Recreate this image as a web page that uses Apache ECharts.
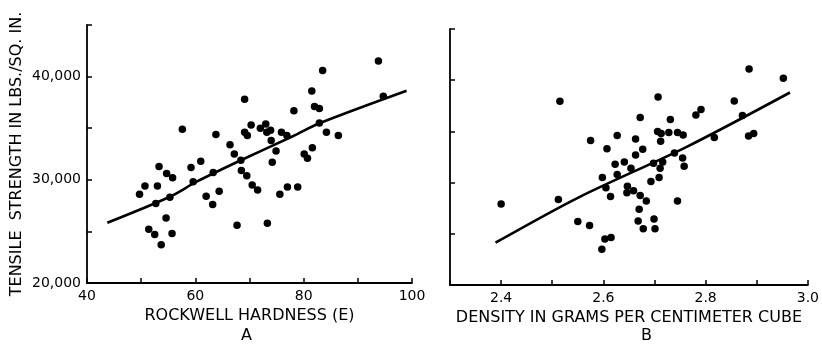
<!DOCTYPE html>
<html><head><meta charset="utf-8">
<script src="https://cdn.jsdelivr.net/npm/echarts@6/dist/echarts.min.js"></script>
<style>html,body{margin:0;padding:0;background:#fff}#c{width:822px;height:347px}</style>
</head><body><div id="c"></div>
<script>
// Panel A: Rockwell hardness vs tensile strength
const hardness = [49.7,50.7,53.3,53.0,52.7,51.4,52.5,53.7,54.6,54.7,55.8,55.3,55.7,57.6,59.2,59.6,61.0,62.0,63.2,63.3,63.8,64.4,66.4,67.2,67.7,68.4,68.5,69.1,69.1,69.6,69.5,70.3,70.5,71.5,72.0,73.0,73.2,73.9,73.3,74.0,74.2,74.9,75.6,75.9,76.9,77.0,78.2,78.9,80.1,80.7,81.5,81.6,82.0,82.9,82.9,83.5,84.2,86.4,93.8,94.7];
const strengthA = [28600,29400,31300,29400,27700,25200,24700,23700,26300,30600,30200,28300,24800,34900,31200,29800,31800,28400,27600,30700,34400,28900,33400,32500,25600,31900,30900,37800,34600,34300,30400,35300,29500,29000,35000,35400,34600,34800,25800,33800,31700,32800,28600,34600,34300,29300,36700,29300,32500,32100,38600,33100,37100,36900,35500,40600,34600,34300,41500,38100];
const trendAx = [43.75,55.3,60.25,68.4,78.1,82.9,99.0];
const trendAy = [25840,28360,29816,31890,34245,35475,38630];

// Panel B: density vs tensile strength
const density = [2.40,2.515,2.512,2.550,2.573,2.575,2.597,2.603,2.615,2.607,2.598,2.605,2.614,2.623,2.627,2.627,2.641,2.647,2.646,2.654,2.659,2.663,2.663,2.672,2.677,2.672,2.684,2.670,2.668,2.678,2.693,2.698,2.699,2.701,2.707,2.706,2.713,2.712,2.711,2.709,2.716,2.728,2.731,2.739,2.745,2.756,2.755,2.758,2.745,2.781,2.791,2.817,2.856,2.872,2.885,2.884,2.894,2.952];
const strengthB = [27900,37950,28360,26200,25800,34100,23500,24500,24650,33300,30500,29500,28650,31800,30800,34600,32000,29650,29000,31400,29200,34270,32700,36350,33250,28750,28200,27400,26250,25500,30100,31900,26450,25500,38370,35000,34800,34050,31400,30500,32000,34900,36150,32900,34900,34650,32400,31600,28200,36600,37150,34400,37980,36550,41100,34550,34800,40200];
const trendBx = [2.389,2.551,2.763,2.965];
const trendBy = [24127,28537,33493,38800];

const yTitle = 'TENSILE  STRENGTH IN LBS./SQ. IN.';
const xTitleA = 'ROCKWELL HARDNESS (E)';
const xTitleB = 'DENSITY IN GRAMS PER CENTIMETER CUBE';
const panelA = 'A', panelB = 'B';

const FONT = 'DejaVu Sans';
const INK = '#000';
const zip = (a, b) => a.map((v, i) => [v, b[i]]);

function axisBase() {
  return {
    axisLine: {show: true, onZero: false, lineStyle: {color: INK, width: 1.8}},
    axisTick: {show: true, inside: true, length: 5, lineStyle: {color: INK, width: 1.5}},
    splitLine: {show: false},
    nameTextStyle: {color: INK, fontFamily: FONT, fontSize: 16}
  };
}
const lbl = (extra) => Object.assign({color: INK, fontFamily: FONT, fontSize: 14, margin: 6}, extra);

const option = {
  animation: false,
  backgroundColor: '#fff',
  grid: [
    {left: 87, right: 410, top: 25, bottom: 64},
    {left: 450, right: 9, top: 29, bottom: 62}
  ],
  xAxis: [
    Object.assign(axisBase(), {
      gridIndex: 0, type: 'value', min: 40, max: 100, interval: 10,
      name: xTitleA, nameLocation: 'middle', nameGap: 20,
      axisLabel: lbl({formatter: v => (v % 20 === 0 ? String(v) : '')})
    }),
    Object.assign(axisBase(), {
      gridIndex: 1, type: 'value', min: 2.3, max: 3.0, interval: 0.1,
      name: xTitleB, nameLocation: 'middle', nameGap: 20,
      axisLabel: lbl({formatter: v => (Math.round(v * 10) % 2 === 0 ? v.toFixed(1) : '')})
    })
  ],
  yAxis: [
    Object.assign(axisBase(), {
      gridIndex: 0, type: 'value', min: 20000, max: 45000, interval: 5000,
      name: yTitle, nameLocation: 'middle', nameGap: 62,
      axisLabel: lbl({formatter: v => (v % 10000 === 0 ? (v / 1000) + ',000' : '')})
    }),
    Object.assign(axisBase(), {
      gridIndex: 1, type: 'value', min: 20000, max: 45000, interval: 5000,
      axisLabel: {show: false}
    })
  ],
  series: [
    {type: 'scatter', xAxisIndex: 0, yAxisIndex: 0, data: zip(hardness, strengthA),
     symbol: 'circle', symbolSize: 7.5, itemStyle: {color: '#000', opacity: 1}},
    {type: 'line', xAxisIndex: 0, yAxisIndex: 0, data: zip(trendAx, trendAy),
     showSymbol: false, smooth: 0.3, lineStyle: {color: '#000', width: 2.6}},
    {type: 'scatter', xAxisIndex: 1, yAxisIndex: 1, data: zip(density, strengthB),
     symbol: 'circle', symbolSize: 7.5, itemStyle: {color: '#000', opacity: 1}},
    {type: 'line', xAxisIndex: 1, yAxisIndex: 1, data: zip(trendBx, trendBy),
     showSymbol: false, smooth: 0.3, lineStyle: {color: '#000', width: 2.6}}
  ],
  graphic: [
    {type: 'text', left: 241, top: 328, style: {text: panelA, fill: INK, font: '16px "DejaVu Sans"'}},
    {type: 'text', left: 641, top: 328, style: {text: panelB, fill: INK, font: '16px "DejaVu Sans"'}}
  ]
};

const chart = echarts.init(document.getElementById('c'), null, {renderer: 'canvas'});
chart.setOption(option);
</script></body></html>
